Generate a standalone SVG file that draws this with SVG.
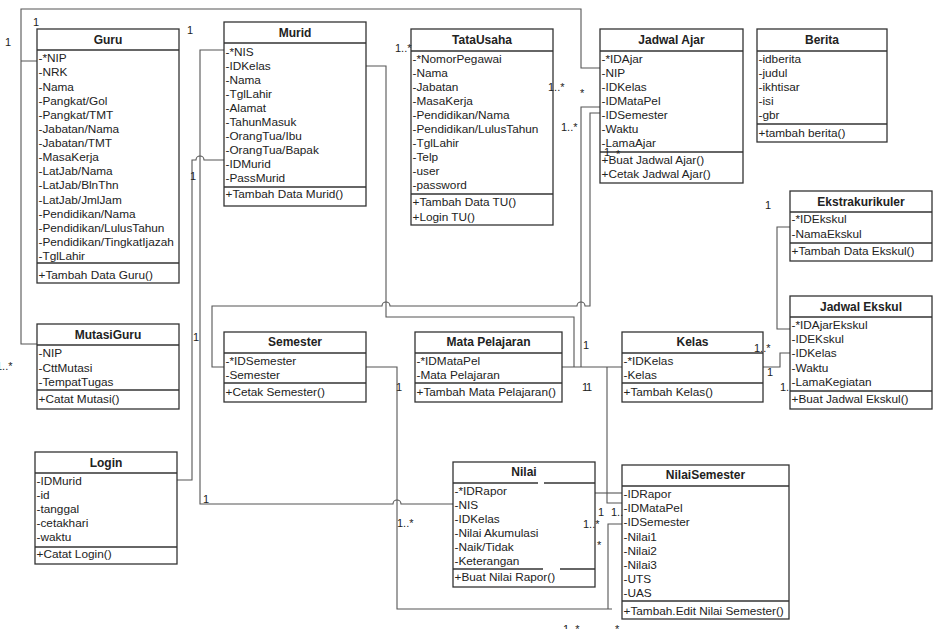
<svg xmlns="http://www.w3.org/2000/svg" width="940" height="629" viewBox="0 0 940 629">
<style>
.bx{fill:#fff;stroke:#333;stroke-width:1.3}
.ln{stroke:#333;stroke-width:1.3}
.t{font-family:"Liberation Sans",Arial,sans-serif;font-size:11.8px;fill:#222}
.h{font-family:"Liberation Sans",Arial,sans-serif;font-size:12px;font-weight:bold;fill:#222;text-anchor:middle}
.c{fill:none;stroke:#555;stroke-width:1.1}
.l{font-family:"Liberation Sans",Arial,sans-serif;font-size:11px;fill:#222}
</style>
<rect width="940" height="629" fill="#fff"/>
<g id="connectors">
<path class="c" d="M600,68 H581 V9 H21 V344 H37 M21,61 H37"/>
<path class="c" d="M224,50 H200 V504 H393 A4,4 0 0 1 401,504 H453"/>
<path class="c" d="M224,160 H204 A4,4 0 0 0 196,160 H192 V480 H177"/>
<path class="c" d="M600,113 H590 V306 H585 A4,4 0 0 0 577,306 H390 A4,4 0 0 0 382,306 H212 V367 H224"/>
<path class="c" d="M366,66 H386 V317 H574 V367"/>
<path class="c" d="M600,107 H581 V367"/>
<path class="c" d="M562,367 H622"/>
<path class="c" d="M607,367 V503 H622"/>
<path class="c" d="M595,493 H622"/>
<path class="c" d="M366,367 H397 V609 H612 M608,609 V524 H622"/>
<path class="c" d="M790,227 H777 V329 H790"/>
<path class="c" d="M763,367 H780 V353 H790"/>
</g>
<g id="Guru">
<rect class="bx" x="37" y="29" width="142" height="254"/>
<line class="ln" x1="37" y1="50" x2="179" y2="50"/>
<line class="ln" x1="37" y1="263" x2="179" y2="263"/>
<text class="h" x="108" y="43.5">Guru</text>
<text class="t" x="38.5" y="62.3">-*NIP</text>
<text class="t" x="38.5" y="76.4">-NRK</text>
<text class="t" x="38.5" y="90.5">-Nama</text>
<text class="t" x="38.5" y="104.7">-Pangkat/Gol</text>
<text class="t" x="38.5" y="118.8">-Pangkat/TMT</text>
<text class="t" x="38.5" y="132.9">-Jabatan/Nama</text>
<text class="t" x="38.5" y="147">-Jabatan/TMT</text>
<text class="t" x="38.5" y="161.1">-MasaKerja</text>
<text class="t" x="38.5" y="175.3">-LatJab/Nama</text>
<text class="t" x="38.5" y="189.4">-LatJab/BlnThn</text>
<text class="t" x="38.5" y="203.5">-LatJab/JmlJam</text>
<text class="t" x="38.5" y="217.6">-Pendidikan/Nama</text>
<text class="t" x="38.5" y="231.7">-Pendidikan/LulusTahun</text>
<text class="t" x="38.5" y="245.9">-Pendidikan/TingkatIjazah</text>
<text class="t" x="38.5" y="260">-TglLahir</text>
<text class="t" x="38.5" y="278.5">+Tambah Data Guru()</text>
</g>
<g id="Murid">
<rect class="bx" x="224" y="22" width="142" height="184"/>
<line class="ln" x1="224" y1="43" x2="366" y2="43"/>
<line class="ln" x1="224" y1="187" x2="366" y2="187"/>
<text class="h" x="295" y="37">Murid</text>
<text class="t" x="225.5" y="55.7">-*NIS</text>
<text class="t" x="225.5" y="69.7">-IDKelas</text>
<text class="t" x="225.5" y="83.7">-Nama</text>
<text class="t" x="225.5" y="97.7">-TglLahir</text>
<text class="t" x="225.5" y="111.7">-Alamat</text>
<text class="t" x="225.5" y="125.7">-TahunMasuk</text>
<text class="t" x="225.5" y="139.7">-OrangTua/Ibu</text>
<text class="t" x="225.5" y="153.7">-OrangTua/Bapak</text>
<text class="t" x="225.5" y="167.7">-IDMurid</text>
<text class="t" x="225.5" y="181.7">-PassMurid</text>
<text class="t" x="225.5" y="198.3">+Tambah Data Murid()</text>
</g>
<g id="TataUsaha">
<rect class="bx" x="411" y="29" width="142" height="196"/>
<line class="ln" x1="411" y1="51" x2="553" y2="51"/>
<line class="ln" x1="411" y1="194" x2="553" y2="194"/>
<text class="h" x="482" y="44">TataUsaha</text>
<text class="t" x="412.5" y="62.7">-*NomorPegawai</text>
<text class="t" x="412.5" y="76.7">-Nama</text>
<text class="t" x="412.5" y="90.8">-Jabatan</text>
<text class="t" x="412.5" y="104.8">-MasaKerja</text>
<text class="t" x="412.5" y="118.9">-Pendidikan/Nama</text>
<text class="t" x="412.5" y="132.9">-Pendidikan/LulusTahun</text>
<text class="t" x="412.5" y="146.9">-TglLahir</text>
<text class="t" x="412.5" y="161">-Telp</text>
<text class="t" x="412.5" y="175">-user</text>
<text class="t" x="412.5" y="189">-password</text>
<text class="t" x="412.5" y="205.7">+Tambah Data TU()</text>
<text class="t" x="412.5" y="220.7">+Login TU()</text>
</g>
<g id="JadwalAjar">
<rect class="bx" x="600" y="29" width="143" height="154"/>
<line class="ln" x1="600" y1="51" x2="743" y2="51"/>
<line class="ln" x1="600" y1="152" x2="743" y2="152"/>
<text class="h" x="671.5" y="44">Jadwal Ajar</text>
<text class="t" x="601.5" y="62.7">-*IDAjar</text>
<text class="t" x="601.5" y="76.8">-NIP</text>
<text class="t" x="601.5" y="90.9">-IDKelas</text>
<text class="t" x="601.5" y="105">-IDMataPel</text>
<text class="t" x="601.5" y="119.1">-IDSemester</text>
<text class="t" x="601.5" y="133.2">-Waktu</text>
<text class="t" x="601.5" y="147.3">-LamaAjar</text>
<text class="t" x="601.5" y="164">+Buat Jadwal Ajar()</text>
<text class="t" x="601.5" y="178">+Cetak Jadwal Ajar()</text>
</g>
<g id="Berita">
<rect class="bx" x="757" y="29" width="130" height="113"/>
<line class="ln" x1="757" y1="51" x2="887" y2="51"/>
<line class="ln" x1="757" y1="124" x2="887" y2="124"/>
<text class="h" x="822" y="44">Berita</text>
<text class="t" x="758.5" y="62.7">-idberita</text>
<text class="t" x="758.5" y="76.8">-judul</text>
<text class="t" x="758.5" y="90.9">-ikhtisar</text>
<text class="t" x="758.5" y="105">-isi</text>
<text class="t" x="758.5" y="119.1">-gbr</text>
<text class="t" x="758.5" y="136.7">+tambah berita()</text>
</g>
<g id="Ekstrakurikuler">
<rect class="bx" x="790" y="191" width="142" height="70"/>
<line class="ln" x1="790" y1="212" x2="932" y2="212"/>
<line class="ln" x1="790" y1="243" x2="932" y2="243"/>
<text class="h" x="861" y="205.7">Ekstrakurikuler</text>
<text class="t" x="791.5" y="223.3">-*IDEkskul</text>
<text class="t" x="791.5" y="238">-NamaEkskul</text>
<text class="t" x="791.5" y="254.7">+Tambah Data Ekskul()</text>
</g>
<g id="JadwalEkskul">
<rect class="bx" x="790" y="296" width="142" height="113"/>
<line class="ln" x1="790" y1="317" x2="932" y2="317"/>
<line class="ln" x1="790" y1="391" x2="932" y2="391"/>
<text class="h" x="861" y="310.7">Jadwal Ekskul</text>
<text class="t" x="791.5" y="329">-*IDAjarEkskul</text>
<text class="t" x="791.5" y="343.2">-IDEKskul</text>
<text class="t" x="791.5" y="357.4">-IDKelas</text>
<text class="t" x="791.5" y="371.6">-Waktu</text>
<text class="t" x="791.5" y="385.7">-LamaKegiatan</text>
<text class="t" x="791.5" y="403">+Buat Jadwal Ekskul()</text>
</g>
<g id="MutasiGuru">
<rect class="bx" x="37" y="324" width="142" height="85"/>
<line class="ln" x1="37" y1="345" x2="179" y2="345"/>
<line class="ln" x1="37" y1="390" x2="179" y2="390"/>
<text class="h" x="108" y="339">MutasiGuru</text>
<text class="t" x="38.5" y="356.7">-NIP</text>
<text class="t" x="38.5" y="371.7">-CttMutasi</text>
<text class="t" x="38.5" y="385.7">-TempatTugas</text>
<text class="t" x="38.5" y="403">+Catat Mutasi()</text>
</g>
<g id="Login">
<rect class="bx" x="35" y="452" width="142" height="112"/>
<line class="ln" x1="35" y1="473" x2="177" y2="473"/>
<line class="ln" x1="35" y1="547" x2="177" y2="547"/>
<text class="h" x="106" y="466.7">Login</text>
<text class="t" x="36.5" y="484.7">-IDMurid</text>
<text class="t" x="36.5" y="498.9">-id</text>
<text class="t" x="36.5" y="513">-tanggal</text>
<text class="t" x="36.5" y="527.2">-cetakhari</text>
<text class="t" x="36.5" y="541.3">-waktu</text>
<text class="t" x="36.5" y="558.3">+Catat Login()</text>
</g>
<g id="Semester">
<rect class="bx" x="224" y="332" width="142" height="70"/>
<line class="ln" x1="224" y1="353" x2="366" y2="353"/>
<line class="ln" x1="224" y1="383" x2="366" y2="383"/>
<text class="h" x="295" y="345.7">Semester</text>
<text class="t" x="225.5" y="365">-*IDSemester</text>
<text class="t" x="225.5" y="379">-Semester</text>
<text class="t" x="225.5" y="395.7">+Cetak Semester()</text>
</g>
<g id="MataPelajaran">
<rect class="bx" x="415" y="332" width="147" height="70"/>
<line class="ln" x1="415" y1="353" x2="562" y2="353"/>
<line class="ln" x1="415" y1="383" x2="562" y2="383"/>
<text class="h" x="488.5" y="345.7">Mata Pelajaran</text>
<text class="t" x="416.5" y="365">-*IDMataPel</text>
<text class="t" x="416.5" y="379">-Mata Pelajaran</text>
<text class="t" x="416.5" y="395.7">+Tambah Mata Pelajaran()</text>
</g>
<g id="Kelas">
<rect class="bx" x="622" y="332" width="141" height="70"/>
<line class="ln" x1="622" y1="353" x2="763" y2="353"/>
<line class="ln" x1="622" y1="383" x2="763" y2="383"/>
<text class="h" x="692.5" y="345.7">Kelas</text>
<text class="t" x="623.5" y="365">-*IDKelas</text>
<text class="t" x="623.5" y="379">-Kelas</text>
<text class="t" x="623.5" y="395.7">+Tambah Kelas()</text>
</g>
<g id="Nilai">
<rect class="bx" x="453" y="462" width="142" height="125"/>
<line class="ln" x1="453" y1="483" x2="538" y2="483"/>
<line class="ln" x1="544" y1="483" x2="595" y2="483"/>
<line class="ln" x1="453" y1="569" x2="543" y2="569"/>
<line class="ln" x1="560" y1="569" x2="595" y2="569"/>
<text class="h" x="524" y="475.7">Nilai</text>
<text class="t" x="454.5" y="495">-*IDRapor</text>
<text class="t" x="454.5" y="509">-NIS</text>
<text class="t" x="454.5" y="523">-IDKelas</text>
<text class="t" x="454.5" y="537">-Nilai Akumulasi</text>
<text class="t" x="454.5" y="551">-Naik/Tidak</text>
<text class="t" x="454.5" y="565">-Keterangan</text>
<text class="t" x="454.5" y="581.3">+Buat Nilai Rapor()</text>
</g>
<g id="NilaiSemester">
<rect class="bx" x="622" y="465" width="167" height="154"/>
<line class="ln" x1="622" y1="486" x2="789" y2="486"/>
<line class="ln" x1="622" y1="601" x2="789" y2="601"/>
<text class="h" x="705.5" y="479">NilaiSemester</text>
<text class="t" x="623.5" y="498.3">-IDRapor</text>
<text class="t" x="623.5" y="512.4">-IDMataPel</text>
<text class="t" x="623.5" y="526.4">-IDSemester</text>
<text class="t" x="623.5" y="540.5">-Nilai1</text>
<text class="t" x="623.5" y="554.5">-Nilai2</text>
<text class="t" x="623.5" y="568.6">-Nilai3</text>
<text class="t" x="623.5" y="582.6">-UTS</text>
<text class="t" x="623.5" y="596.7">-UAS</text>
<text class="t" x="623.5" y="614.7">+Tambah.Edit Nilai Semester()</text>
</g>
<g id="labels">
<text class="l" x="5" y="46">1</text>
<text class="l" x="33" y="26">1</text>
<text class="l" x="187" y="34">1</text>
<text class="l" x="395" y="52">1..*</text>
<text class="l" x="548" y="91">1..*</text>
<text class="l" x="580" y="97">*</text>
<text class="l" x="561" y="131">1..*</text>
<text class="l" x="604" y="156">1</text>
<text class="l" x="616" y="158">*</text>
<text class="l" x="190" y="180">1</text>
<text class="l" x="193" y="341">1</text>
<text class="l" x="203" y="503">1</text>
<text class="l" x="-4" y="370">1..*</text>
<text class="l" x="396" y="391">1</text>
<text class="l" x="397" y="527">1..*</text>
<text class="l" x="583" y="349">1</text>
<text class="l" x="582" y="391">1</text>
<text class="l" x="586" y="391">1</text>
<text class="l" x="754" y="352">1..*</text>
<text class="l" x="767" y="376">1</text>
<text class="l" x="780" y="391">1.</text>
<text class="l" x="765" y="209">1</text>
<text class="l" x="598" y="516">1</text>
<text class="l" x="611" y="516">1..</text>
<text class="l" x="583" y="528">1..*</text>
<text class="l" x="597" y="549">*</text>
<text class="l" x="563" y="633">1..*</text>
<text class="l" x="615" y="633">*</text>
</g>
</svg>
